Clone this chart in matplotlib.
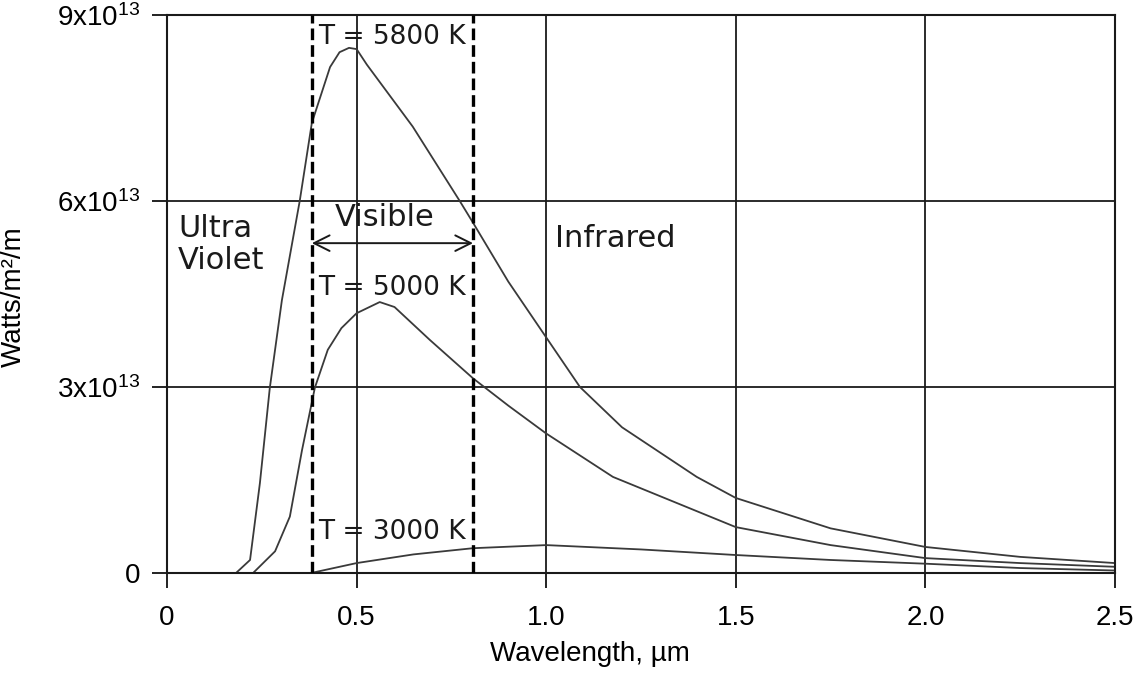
import numpy as np
import matplotlib
matplotlib.use("Agg")
from matplotlib import pyplot as plt

plt.rcParams['font.family'] = ['Liberation Sans', 'DejaVu Sans']
plt.rcParams['mathtext.fontset'] = 'custom'
plt.rcParams['mathtext.rm'] = 'Liberation Sans'
plt.rcParams['mathtext.it'] = 'Liberation Sans:italic'

# spectral radiance, units of 1e13 W/m^2/m
wl_5800 = [0.182, 0.219, 0.245, 0.271, 0.303, 0.35, 0.382, 0.43, 0.455, 0.48, 0.5,
           0.527, 0.648, 0.772, 0.807, 0.9, 1.0, 1.089, 1.2, 1.397, 1.5, 1.75, 2.0, 2.25, 2.5]
p_5800 = [0, 0.21, 1.45, 2.98, 4.4, 6.0, 7.26, 8.16, 8.4, 8.47, 8.45,
          8.2, 7.2, 6.0, 5.65, 4.7, 3.8, 3.0, 2.35, 1.55, 1.21, 0.72, 0.42, 0.26, 0.16]

wl_5000 = [0.227, 0.285, 0.324, 0.356, 0.39, 0.424, 0.46, 0.5, 0.561, 0.6, 0.693, 0.807,
           0.9, 1.0, 1.176, 1.5, 1.75, 2.0, 2.25, 2.5]
p_5000 = [0, 0.35, 0.91, 1.98, 2.99, 3.6, 3.95, 4.19, 4.37, 4.29, 3.76, 3.14,
          2.7, 2.25, 1.55, 0.74, 0.45, 0.24, 0.16, 0.1]

wl_3000 = [0.38, 0.5, 0.65, 0.807, 1.0, 1.25, 1.5, 1.75, 2.0, 2.25, 2.5]
p_3000 = [0, 0.16, 0.3, 0.4, 0.45, 0.38, 0.29, 0.21, 0.15, 0.08, 0.04]

visible_lo = 0.382
visible_hi = 0.807

x_ticks = [0, 0.5, 1.0, 1.5, 2.0, 2.5]
x_labels = ['0', '0.5', '1.0', '1.5', '2.0', '2.5']
y_ticks = [0, 3e13, 6e13, 9e13]
y_labels = ['0', r'$3\mathrm{x}10^{13}$', r'$6\mathrm{x}10^{13}$', r'$9\mathrm{x}10^{13}$']

fig = plt.figure(figsize=(11.46, 6.73), dpi=100)
ax = fig.add_axes([167 / 1146, 1 - 573 / 673, 948 / 1146, 558 / 673])

scale = 1e13
for wl, p in [(wl_5800, p_5800), (wl_5000, p_5000), (wl_3000, p_3000)]:
    ax.plot(wl, np.array(p) * scale, color='#3a3a3a', lw=1.3)

ax.set_xlim(0, 2.5)
ax.set_ylim(0, 9e13)
ax.set_xticks(x_ticks)
ax.set_xticklabels(x_labels)
ax.set_yticks(y_ticks)
ax.set_yticklabels(y_labels)
ax.tick_params(direction='out', length=11, width=1.3, labelsize=20, color='#111111')
ax.tick_params(axis='x', pad=12)
ax.tick_params(axis='y', pad=8)
ax.grid(True, color='#1a1a1a', lw=1.3)
for s in ax.spines.values():
    s.set_linewidth(1.5)
    s.set_color('#1a1a1a')

for xv in [visible_lo, visible_hi]:
    ax.axvline(xv, color='black', lw=2.4, dashes=(3.5, 1.5), zorder=5)

ax.set_xlabel('Wavelength, µm', fontsize=20)
ax.xaxis.set_label_coords(0.446, -0.121)
ax.set_ylabel('Watts/m²/m', fontsize=20)
ax.yaxis.set_label_coords(-0.148, 0.496)

ann = dict(family=['DejaVu Sans'], color='#1a1a1a')
ax.text(0.398, 8.65e13, 'T = 5800 K', fontsize=19, va='center', ha='left', **ann)
ax.text(0.398, 4.6e13, 'T = 5000 K', fontsize=19, va='center', ha='left', **ann)
ax.text(0.398, 0.66e13, 'T = 3000 K', fontsize=19, va='center', ha='left', **ann)
ax.text(0.029, 5.3e13, 'Ultra\nViolet', fontsize=22, va='center', ha='left',
        linespacing=1.15, **ann)
ax.text(0.575, 5.73e13, 'Visible', fontsize=22, va='center', ha='center', **ann)
ax.text(1.023, 5.4e13, 'Infrared', fontsize=22, va='center', ha='left', **ann)
ax.annotate('', xy=(visible_lo, 5.32e13), xytext=(visible_hi, 5.32e13),
            arrowprops=dict(arrowstyle='<->', lw=1.4, color='#1a1a1a',
                            mutation_scale=28, shrinkA=0, shrinkB=0))

fig.savefig('out.png', dpi=100)
